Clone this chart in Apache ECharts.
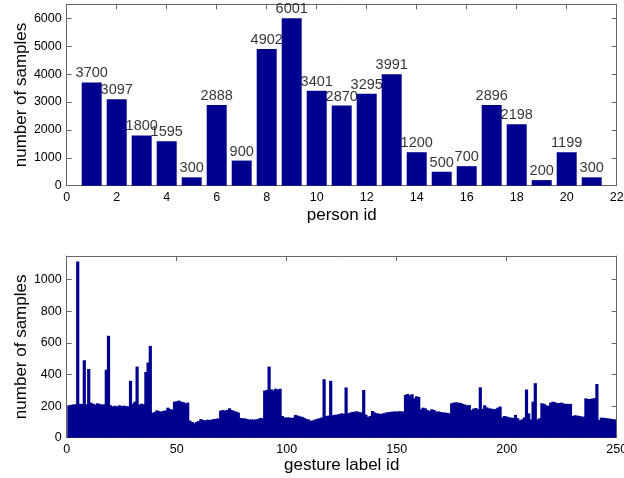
<!DOCTYPE html>
<html>
<head>
<meta charset="utf-8">
<script src="https://cdn.jsdelivr.net/npm/echarts@6/dist/echarts.min.js"></script>
<style>
html,body{margin:0;padding:0;background:#fff;}
#c{width:624px;height:478px;}
</style>
</head>
<body>
<div id="c"></div>
<script>
// ---- Top plot data ----
var personIds = [1,2,3,4,5,6,7,8,9,10,11,12,13,14,15,16,17,18,19,20,21];
var personCounts = [3700,3097,1800,1595,300,2888,900,4902,6001,3401,2870,3295,3991,1200,500,700,2896,2198,200,1199,300];

// ---- Bottom plot data (gesture label id 1..249) ----
var gestureCounts = [
205,208,210,212,1115,215,213,490,212,435,
222,215,210,218,213,210,212,430,645,205,
198,202,198,205,200,203,200,198,360,215,
228,450,210,215,212,416,476,581,158,162,
173,168,165,170,172,190,182,178,228,230,
235,228,225,218,222,108,100,92,100,105,
118,112,110,114,112,115,118,120,122,171,
175,172,176,186,175,170,165,159,125,123,
122,118,115,116,114,116,118,125,123,298,
302,450,306,300,310,305,310,137,129,127,
129,125,127,144,140,135,132,125,118,115,
106,110,115,120,123,128,370,137,140,360,
142,145,146,150,154,152,318,155,159,163,
165,167,162,160,302,146,132,138,169,160,
154,152,150,155,158,161,163,165,166,165,
167,167,165,271,277,268,275,249,262,258,
180,190,186,175,169,180,175,165,166,163,
160,159,157,154,218,222,224,222,220,214,
210,205,207,175,184,188,180,319,182,205,
192,186,184,180,182,190,197,129,137,134,
129,127,125,144,123,110,116,128,305,154,
116,228,345,116,123,218,214,205,201,222,
228,224,218,220,222,216,214,214,214,137,
142,140,138,134,133,249,245,245,248,251,
340,112,127,126,125,122,120,118,116
];

var topXTicks = {min:0, max:22, interval:2};
var topYTicks = {min:0, max:6500, interval:1000};
var botXTicks = {min:0, max:250, interval:50};
var botYTicks = {min:0, max:1150, interval:200};

var gestureData = gestureCounts.map(function(v,i){ return [i+1, v]; });
var personData = personIds.map(function(id,i){ return [id, personCounts[i]]; });

var FONT = 'Liberation Sans, Arial, sans-serif';
var FRAME = '#666';
var BAR = '#00008F';

function frameAxis(extra){
  var a = {
    axisLine:{show:true, onZero:false, lineStyle:{color:FRAME, width:1}},
    axisTick:{show:true, inside:true, length:5, lineStyle:{color:FRAME, width:1}},
    splitLine:{show:false},
    axisLabel:{show:false}
  };
  for (var k in extra) a[k] = extra[k];
  return a;
}
function labelAxis(t, extra){
  var a = frameAxis(extra);
  a.axisLabel = {show:true, color:'#000', fontFamily:FONT, fontSize:12.5, margin:5,
    hideOverlap:false, showMinLabel:true, showMaxLabel:true,
    formatter:function(v){ return (Math.round(v) % t.interval === 0) ? String(v) : ''; }};
  return a;
}

var chart = echarts.init(document.getElementById('c'), null, {renderer:'canvas'});
chart.setOption({
  animation:false,
  backgroundColor:'#fff',
  grid:[
    {left:66.7, right:7.3, top:4.3, bottom:292.3, containLabel:false, outerBoundsMode:'none'},
    {left:66.7, right:7.3, top:256, bottom:40.3, containLabel:false, outerBoundsMode:'none'}
  ],
  xAxis:[
    labelAxis(topXTicks, {type:'value', gridIndex:0, position:'bottom', min:topXTicks.min, max:topXTicks.max, interval:topXTicks.interval,
      name:'person id', nameLocation:'middle', nameGap:21, nameMoveOverlap:false, nameTextStyle:{fontFamily:FONT, fontSize:17, color:'#000'}}),
    frameAxis({type:'value', gridIndex:0, position:'top', min:topXTicks.min, max:topXTicks.max, interval:topXTicks.interval}),
    labelAxis(botXTicks, {type:'value', gridIndex:1, position:'bottom', min:botXTicks.min, max:botXTicks.max, interval:botXTicks.interval,
      name:'gesture label id', nameLocation:'middle', nameGap:19, nameMoveOverlap:false, nameTextStyle:{fontFamily:FONT, fontSize:17, color:'#000'}}),
    frameAxis({type:'value', gridIndex:1, position:'top', min:botXTicks.min, max:botXTicks.max, interval:botXTicks.interval})
  ],
  yAxis:[
    labelAxis(topYTicks, {type:'value', gridIndex:0, position:'left', min:topYTicks.min, max:topYTicks.max, interval:topYTicks.interval,
      name:'number of samples', nameLocation:'middle', nameGap:37, nameMoveOverlap:false, nameTextStyle:{fontFamily:FONT, fontSize:17, color:'#000'}}),
    frameAxis({type:'value', gridIndex:0, position:'right', min:topYTicks.min, max:topYTicks.max, interval:topYTicks.interval}),
    labelAxis(botYTicks, {type:'value', gridIndex:1, position:'left', min:botYTicks.min, max:botYTicks.max, interval:botYTicks.interval,
      name:'number of samples', nameLocation:'middle', nameGap:37, nameMoveOverlap:false, nameTextStyle:{fontFamily:FONT, fontSize:17, color:'#000'}}),
    frameAxis({type:'value', gridIndex:1, position:'right', min:botYTicks.min, max:botYTicks.max, interval:botYTicks.interval})
  ],
  series:[
    {
      type:'scatter', xAxisIndex:0, yAxisIndex:0, z:1,
      data:personData, symbolSize:1, itemStyle:{color:'rgba(0,0,0,0)'},
      label:{show:true, position:'top', distance:1, color:'#000', fontFamily:FONT, fontSize:14.5,
        formatter:function(p){ return String(p.value[1]); }},
      silent:true
    },
    {
      type:'bar', xAxisIndex:0, yAxisIndex:0, z:3,
      data:personData, barWidth:20,
      itemStyle:{color:BAR}
    },
    {
      type:'bar', xAxisIndex:2, yAxisIndex:2, z:3,
      data:gestureData, barWidth:3.2,
      itemStyle:{color:BAR}
    }
  ]
});
</script>
</body>
</html>
